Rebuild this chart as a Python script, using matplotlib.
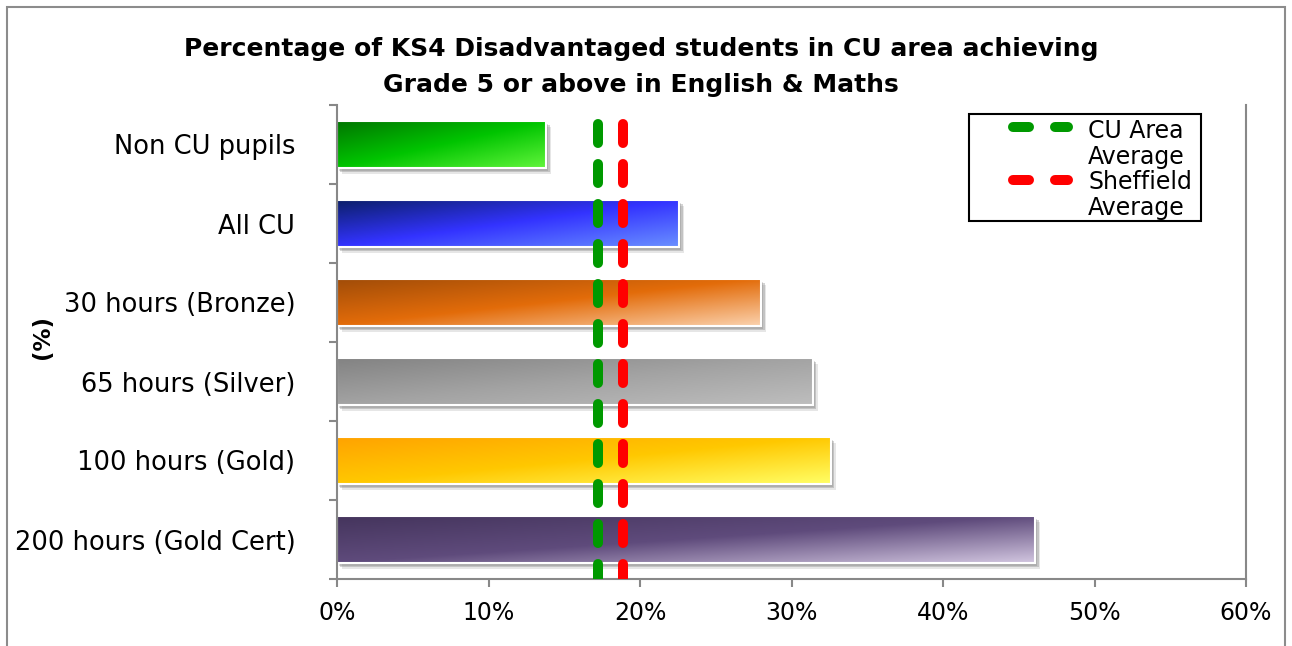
import numpy as np
import matplotlib
matplotlib.use("Agg")
import matplotlib.pyplot as plt
from matplotlib import patheffects
from matplotlib.colors import to_rgb
from matplotlib.patches import Rectangle
from matplotlib.lines import Line2D

categories = ["Non CU pupils", "All CU", "30 hours (Bronze)", "65 hours (Silver)",
              "100 hours (Gold)", "200 hours (Gold Cert)"]
values = [13.8, 22.6, 28.0, 31.4, 32.6, 46.1]
cu_average = 17.2
sheffield_average = 18.9
x_ticks = [0, 10, 20, 30, 40, 50, 60]

# dark -> mid -> light stops for each bar's diagonal gradient
gradients = [
    ("#007400", "#00c400", "#62f53c"),
    ("#0b1f66", "#3333ff", "#6a90ff"),
    ("#a04c08", "#e36c0a", "#fbd2ae"),
    ("#828282", "#a3a3a3", "#bebebe"),
    ("#ffa200", "#ffc800", "#ffff66"),
    ("#44345c", "#5f4b7c", "#d2c6e0"),
]


def gradient_image(stops, h=60, w=300):
    u = np.linspace(0, 1, w)[None, :]
    v = np.linspace(0, 1, h)[:, None]
    t = (u + v) / 2
    c0, c1, c2 = [np.array(to_rgb(c)) for c in stops]
    t = t[..., None]
    lo = c0 + (c1 - c0) * np.clip(t / 0.5, 0, 1)
    hi = c1 + (c2 - c1) * np.clip((t - 0.5) / 0.5, 0, 1)
    return np.where(t < 0.5, lo, hi)


fig = plt.figure(figsize=(12.92, 6.46), dpi=100)
W, H = 1292, 646
ax = fig.add_axes([337 / W, 1 - 579 / H, (1246 - 337) / W, (579 - 105) / H])

# outer chart frame
fig.add_artist(Rectangle((7 / W, -0.05), (1285 - 7) / W, 1.05 - 7 / H,
                         transform=fig.transFigure, fill=False,
                         edgecolor="#8c8c8c", linewidth=1.5))

n = len(categories)
ypos = np.arange(n)[::-1]
bar_h = 0.6

shadow = [patheffects.SimplePatchShadow(offset=(1.5, -2), shadow_rgbFace="#555555", alpha=0.2),
          patheffects.SimplePatchShadow(offset=(2.5, -3), shadow_rgbFace="#555555", alpha=0.25),
          patheffects.SimplePatchShadow(offset=(3.5, -4.5), shadow_rgbFace="#777777", alpha=0.18),
          patheffects.Normal()]

bars = ax.barh(ypos, values, height=bar_h, color=[g[1] for g in gradients],
               zorder=2)
for bar, stops in zip(bars, gradients):
    bar.set_path_effects(shadow)
    x0, y0 = bar.get_x(), bar.get_y()
    img = ax.imshow(gradient_image(stops), extent=(x0, x0 + bar.get_width(), y0, y0 + bar.get_height()),
                    aspect="auto", interpolation="bilinear", origin="upper", zorder=2.1)
    img.set_clip_path(bar)
ax.barh(ypos, values, height=bar_h, fill=False, edgecolor="white", linewidth=1.5, zorder=2.2)

# average reference lines
line_kw = dict(linewidth=7.2, linestyle=(0, (1.9, 2.1)), dash_capstyle="round",
               transform=ax.get_xaxis_transform(), zorder=3)
ax.plot([cu_average, cu_average], [0.96, -0.1], color="#009900", **line_kw)
ax.plot([sheffield_average, sheffield_average], [0.96, -0.1], color="#ff0000", **line_kw)

ax.set_xlim(0, 60)
ax.set_ylim(-0.5, n - 0.5)
ax.set_xticks(x_ticks)
ax.set_xticklabels([f"{t}%" for t in x_ticks], fontsize=17)
ax.set_yticks(ypos)
ax.set_yticklabels(categories, fontsize=18.5)
ax.set_yticks(np.arange(-0.5, n, 1), minor=True)
ax.tick_params(axis="y", which="major", length=0, pad=30)
ax.tick_params(axis="y", which="minor", length=6, width=1.5, color="#888888", direction="out")
ax.tick_params(axis="x", which="major", length=6, width=1.5, color="#888888", direction="out", pad=10)

for side in ["left", "bottom", "right"]:
    ax.spines[side].set_color("#888888")
    ax.spines[side].set_linewidth(1.5)
ax.spines["top"].set_visible(False)

fig.text(0.496, 1 - 67 / H,
         "Percentage of KS4 Disadvantaged students in CU area achieving\nGrade 5 or above in English & Maths",
         ha="center", va="center", fontsize=18, fontweight="bold", linespacing=1.65)
fig.text(43 / W, 1 - 337 / H, "(%)", rotation=90, ha="center", va="center",
         fontsize=16.5, fontweight="bold")

# legend box
fig.add_artist(Rectangle((969 / W, 1 - 221 / H), (1201 - 969) / W, (221 - 114) / H,
                         transform=fig.transFigure, fill=False, edgecolor="black", linewidth=1.5, zorder=5))
for color, label, yc, ytop in [("#009900", "CU Area\nAverage", 127, 119),
                               ("#ff0000", "Sheffield\nAverage", 180, 170)]:
    fig.add_artist(Line2D([1013 / W, 1068 / W], [1 - yc / H, 1 - yc / H], transform=fig.transFigure,
                          color=color, linewidth=7.2, linestyle=(0, (1.6, 2.6)),
                          dash_capstyle="round", zorder=6))
    fig.text(1088 / W, 1 - ytop / H, label, ha="left", va="top", fontsize=17,
             linespacing=1.12, zorder=6)

fig.savefig("out.png", dpi=100)
